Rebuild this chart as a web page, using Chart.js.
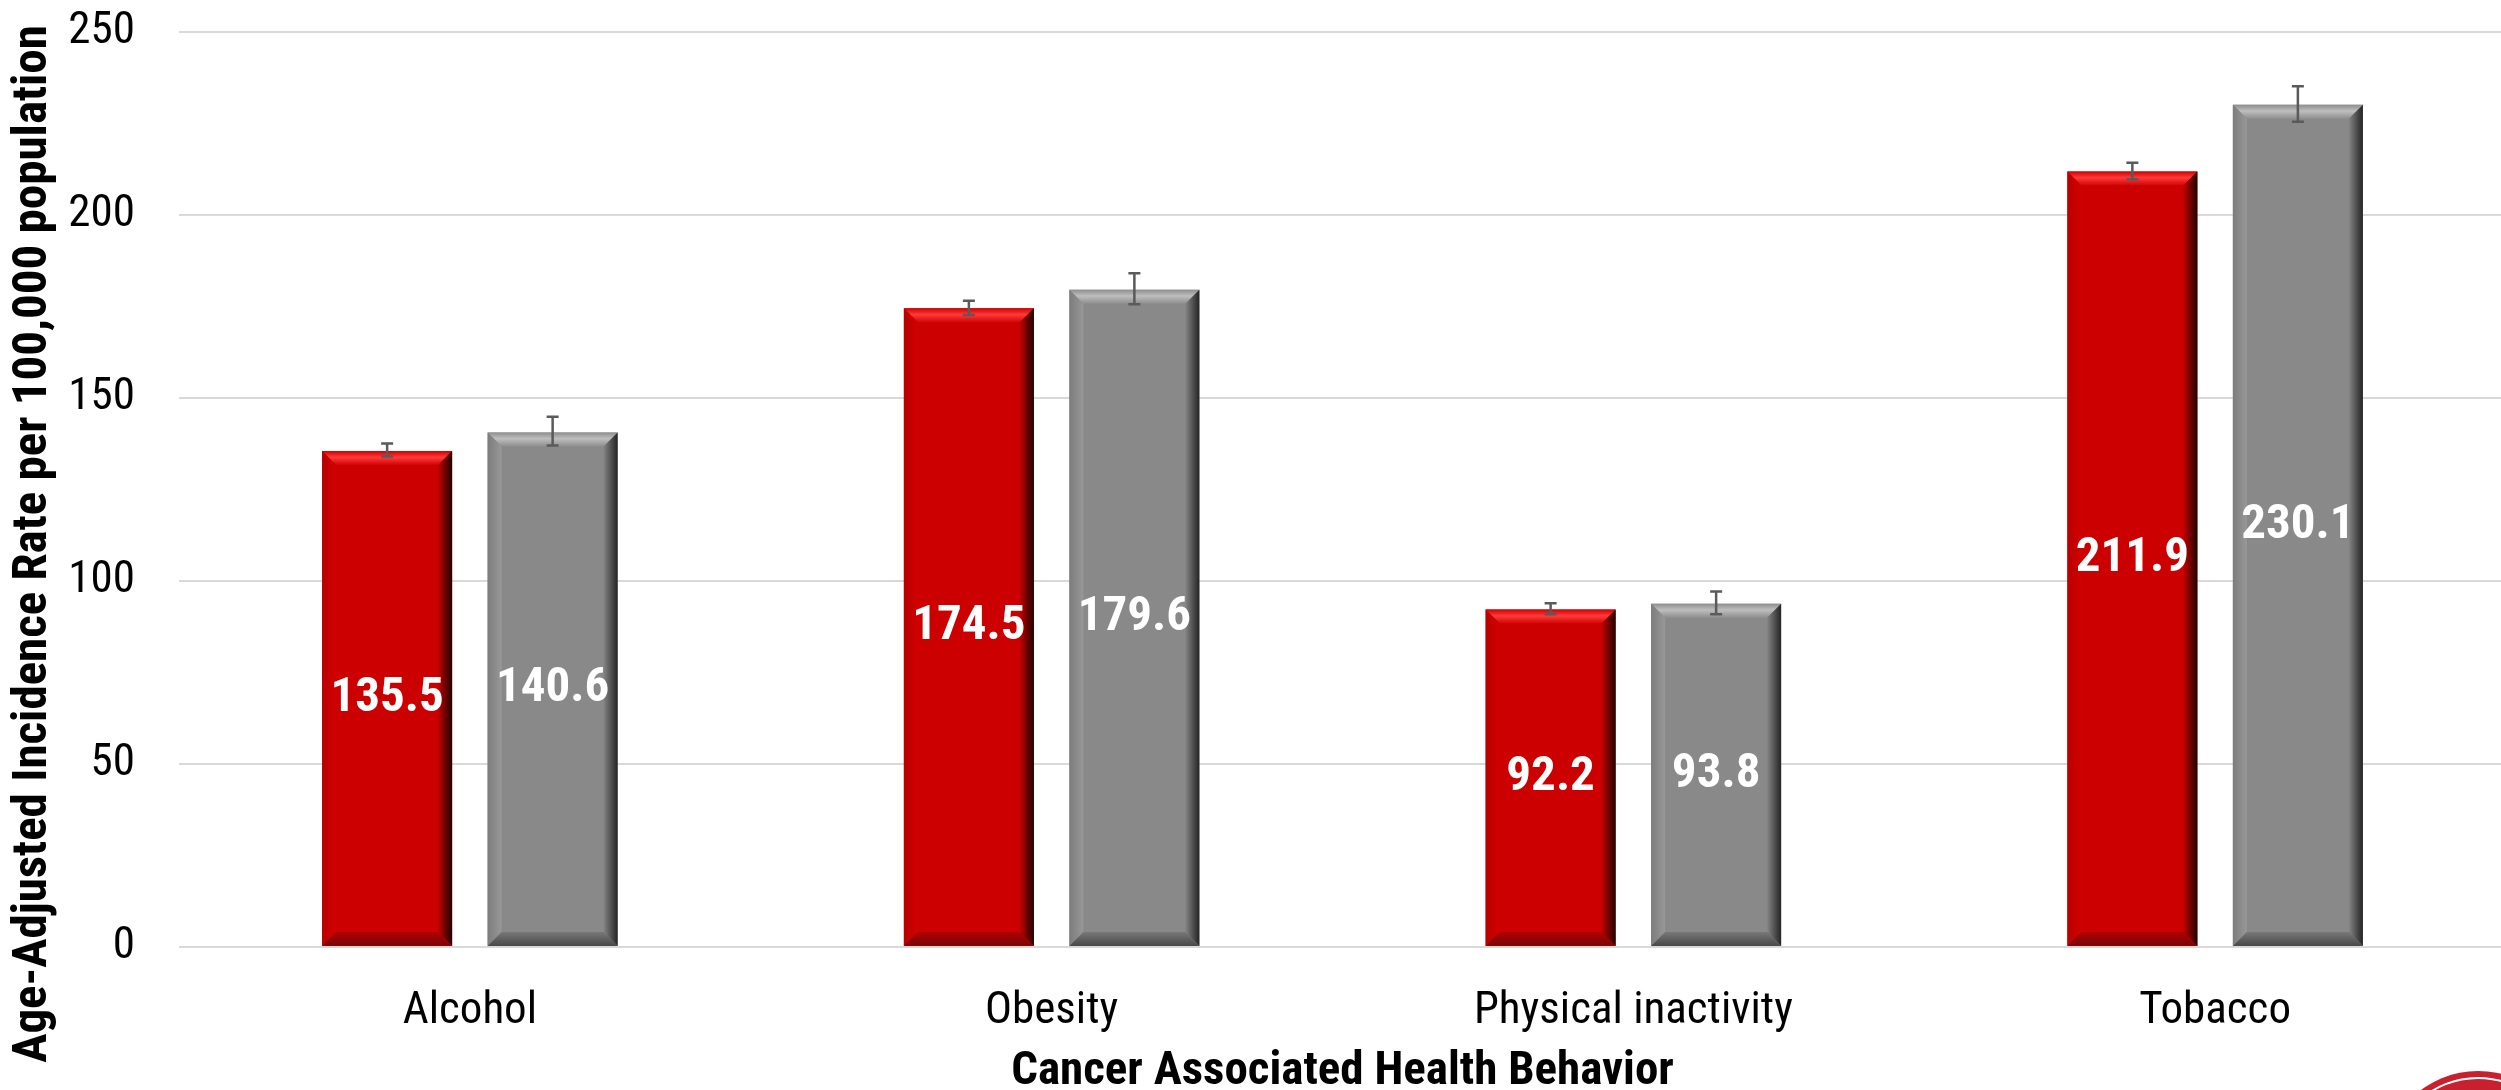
<!DOCTYPE html>
<html><head><meta charset="utf-8">
<script src="https://cdn.jsdelivr.net/npm/chart.js@4.4.1/dist/chart.umd.min.js"></script>
<style>html,body{margin:0;padding:0;background:#fff;overflow:hidden}canvas{display:block}</style>
</head><body>
<canvas id="c" width="2506" height="1090"></canvas>
<script>
const categories = ['Alcohol', 'Obesity', 'Physical inactivity', 'Tobacco'];
const seriesRed = [135.5, 174.5, 92.2, 211.9];
const seriesGray = [140.6, 179.6, 93.8, 230.1];
const seriesRedLow = [134.0, 172.7, 90.9, 209.8];
const seriesRedHigh = [137.6, 176.6, 93.9, 214.3];
const seriesGrayLow = [137.0, 175.6, 90.9, 225.5];
const seriesGrayHigh = [144.9, 184.1, 97.1, 235.2];
const yTicks = [0, 50, 100, 150, 200, 250];
const xTitle = 'Cancer Associated Health Behavior';
const yTitle = 'Age-Adjusted Incidence Rate per 100,000 population';

const FONT = "'Roboto Condensed','Liberation Sans Narrow','Arial Narrow',sans-serif";

const bevelRed = {top0:'#D40000',top1:'#FF3A3A',top2:'#D00404',left0:'#B80000',left1:'#D20000',right0:'#C20000',right1:'#1E0000',bot0:'#B00000',bot1:'#780808'};
const bevelGray = {top0:'#8E8E8E',top1:'#BEBEBE',top2:'#8E8E8E',left0:'#7C7C7C',left1:'#989898',right0:'#848484',right1:'#242424',bot0:'#787878',bot1:'#484848'};

function poly(ctx, pts, fill){
  ctx.beginPath();
  ctx.moveTo(pts[0][0], pts[0][1]);
  for (let i = 1; i < pts.length; i++) ctx.lineTo(pts[i][0], pts[i][1]);
  ctx.closePath();
  ctx.fillStyle = fill;
  ctx.fill();
}
function drawBevel(ctx, l, t, r, b, c){
  const k = 14;
  let g = ctx.createLinearGradient(0, t, 0, t + k);
  g.addColorStop(0, c.top0); g.addColorStop(0.45, c.top1); g.addColorStop(1, c.top2);
  poly(ctx, [[l,t],[r,t],[r-k,t+k],[l+k,t+k]], g);
  g = ctx.createLinearGradient(l, 0, l + k, 0);
  g.addColorStop(0, c.left0); g.addColorStop(1, c.left1);
  poly(ctx, [[l,t],[l+k,t+k],[l+k,b-k],[l,b]], g);
  g = ctx.createLinearGradient(r - k, 0, r, 0);
  g.addColorStop(0, c.right0); g.addColorStop(1, c.right1);
  poly(ctx, [[r,t],[r,b],[r-k,b-k],[r-k,t+k]], g);
  g = ctx.createLinearGradient(0, b - k, 0, b);
  g.addColorStop(0, c.bot0); g.addColorStop(1, c.bot1);
  poly(ctx, [[l,b],[l+k,b-k],[r-k,b-k],[r,b]], g);
}

const decor = {
  id: 'decor',
  afterDatasetsDraw(chart){
    const ctx = chart.ctx;
    const ys = chart.scales.y;
    chart.data.datasets.forEach((ds, di) => {
      const meta = chart.getDatasetMeta(di);
      meta.data.forEach((bar, i) => {
        const p = bar.getProps(['x','y','base','width'], true);
        const l = p.x - p.width/2, r = p.x + p.width/2;
        ctx.save();
        drawBevel(ctx, l, p.y, r, p.base, ds.bevel);
        const yl = ys.getPixelForValue(ds.errLow[i]);
        const yh = ys.getPixelForValue(ds.errHigh[i]);
        ctx.strokeStyle = '#5A5A5A';
        ctx.lineWidth = 2.5;
        ctx.beginPath();
        ctx.moveTo(p.x, yl); ctx.lineTo(p.x, yh);
        ctx.moveTo(p.x - 6, yl); ctx.lineTo(p.x + 6, yl);
        ctx.moveTo(p.x - 6, yh); ctx.lineTo(p.x + 6, yh);
        ctx.stroke();
        ctx.fillStyle = '#FFFFFF';
        ctx.font = 'bold 49px ' + FONT;
        ctx.textAlign = 'center';
        ctx.textBaseline = 'middle';
        ctx.fillText(ds.data[i].toFixed(1), p.x, (p.y + p.base)/2);
        ctx.restore();
      });
    });
  },
  afterDraw(chart){
    const ctx = chart.ctx;
    ctx.save();
    ctx.translate(34, 544);
    ctx.rotate(-Math.PI/2);
    ctx.fillStyle = '#000';
    ctx.font = 'bold 49px ' + FONT;
    const w = ctx.measureText(yTitle).width;
    if (w > 1056) ctx.scale(1056 / w, 1);
    ctx.textAlign = 'center';
    ctx.textBaseline = 'middle';
    ctx.fillText(yTitle, 0, 0);
    ctx.restore();
    ctx.save();
    ctx.beginPath(); ctx.arc(2478, 1166, 95, 0, Math.PI*2);
    ctx.fillStyle = '#C8202F'; ctx.fill();
    ctx.beginPath(); ctx.arc(2478, 1166, 88, 0, Math.PI*2);
    ctx.strokeStyle = '#FFFFFF'; ctx.lineWidth = 2; ctx.stroke();
    ctx.restore();
  }
};

new Chart(document.getElementById('c'), {
  type: 'bar',
  data: {
    labels: categories,
    datasets: [
      {label: 'Series 1', data: seriesRed, backgroundColor: '#CC0000', borderWidth: 0,
       errLow: seriesRedLow, errHigh: seriesRedHigh, bevel: bevelRed},
      {label: 'Series 2', data: seriesGray, backgroundColor: '#898989', borderWidth: 0,
       errLow: seriesGrayLow, errHigh: seriesGrayHigh, bevel: bevelGray}
    ]
  },
  options: {
    responsive: false,
    animation: false,
    devicePixelRatio: 1,
    categoryPercentage: 0.569,
    barPercentage: 0.7855,
    layout: {padding: {top: 32, left: 0, right: 0, bottom: 0}},
    plugins: {legend: {display: false}, tooltip: {enabled: false}},
    scales: {
      x: {
        grid: {display: false, drawTicks: false},
        border: {display: false},
        ticks: {color: '#000', padding: 38, font: {family: FONT, size: 45}},
        title: {display: true, text: xTitle, color: '#000', padding: {top: 0, bottom: -10},
                font: {family: FONT, size: 47, weight: 'bold'}},
        afterFit(s){ s.height = 143; s.paddingLeft = 0; s.paddingRight = 0; }
      },
      y: {
        min: 0, max: 250,
        afterBuildTicks(s){ s.ticks = yTicks.map(v => ({value: v})); },
        grid: {color: '#D9D9D9', lineWidth: 2, drawTicks: false},
        border: {display: false},
        ticks: {color: '#000', padding: 44, font: {family: FONT, size: 45}},
        afterFit(s){ s.width = 179; s.paddingTop = 0; s.paddingBottom = 0; }
      }
    }
  },
  plugins: [decor]
});
</script>
</body></html>
